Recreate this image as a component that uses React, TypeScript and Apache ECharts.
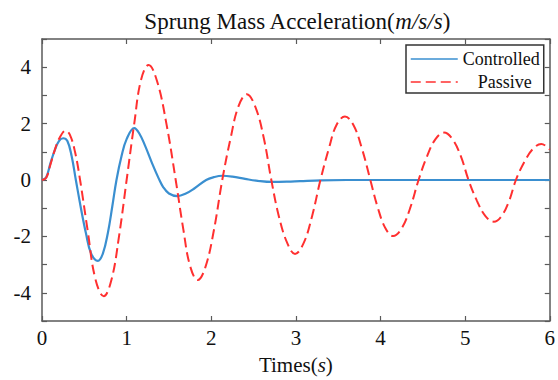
import React, { useEffect, useRef } from "react";
import * as echarts from "echarts";

const seriesNames = ["Controlled", "Passive"];

const controlledT = [0, 0.05, 0.1, 0.15, 0.2, 0.25, 0.3, 0.35, 0.4, 0.46, 0.52, 0.58, 0.66, 0.72, 0.78, 0.83, 0.88, 0.94, 1.0, 1.09, 1.15, 1.22, 1.3, 1.38, 1.43, 1.5, 1.6, 1.7, 1.8, 1.94, 2.03, 2.13, 2.25, 2.4, 2.55, 2.72, 2.9, 3.05, 3.3, 3.6, 4.0, 4.5, 5.0, 5.5, 6.0];
const controlledV = [0, 0.1, 0.6, 1.05, 1.38, 1.48, 1.38, 0.85, 0, -1.0, -1.9, -2.6, -2.87, -2.6, -1.85, -0.95, 0, 0.85, 1.45, 1.84, 1.65, 1.2, 0.6, 0.05, -0.24, -0.48, -0.57, -0.48, -0.3, 0, 0.1, 0.15, 0.12, 0.04, -0.03, -0.07, -0.06, -0.04, -0.01, 0, 0, 0, 0, 0, 0];

const passiveT = [0, 0.05, 0.1, 0.15, 0.2, 0.28, 0.33, 0.39, 0.45, 0.54, 0.63, 0.73, 0.82, 0.91, 1.0, 1.09, 1.17, 1.26, 1.36, 1.47, 1.58, 1.67, 1.75, 1.84, 1.93, 2.03, 2.13, 2.23, 2.32, 2.42, 2.52, 2.62, 2.71, 2.8, 2.9, 2.99, 3.09, 3.19, 3.29, 3.39, 3.48, 3.58, 3.68, 3.78, 3.88, 3.97, 4.06, 4.15, 4.25, 4.35, 4.45, 4.55, 4.65, 4.75, 4.85, 4.95, 5.04, 5.14, 5.24, 5.34, 5.43, 5.52, 5.6, 5.7, 5.8, 5.9, 6.0];
const passiveV = [0, 0.08, 0.55, 1.05, 1.45, 1.75, 1.6, 1.0, 0, -1.8, -3.5, -4.12, -3.55, -2.0, 0, 2.0, 3.55, 4.08, 3.5, 2.0, 0, -1.75, -3.05, -3.55, -3.1, -1.8, 0, 1.5, 2.6, 3.04, 2.6, 1.5, 0, -1.3, -2.25, -2.62, -2.25, -1.3, 0, 1.12, 1.95, 2.25, 1.95, 1.12, 0, -1.0, -1.72, -1.99, -1.72, -1.0, 0, 0.84, 1.45, 1.68, 1.45, 0.84, 0, -0.74, -1.28, -1.48, -1.28, -0.74, 0, 0.64, 1.1, 1.28, 1.08];

const xRange = [0, 6];
const yRange = [-5, 5];

const FONT = "Liberation Serif";
const AXIS_COLOR = "#5a5a5a";
const TEXT_COLOR = "#111";

export default function App() {
  const ref = useRef<HTMLDivElement>(null);
  useEffect(() => {
    if (!ref.current) return;
    const chart = echarts.init(ref.current, undefined, { renderer: "svg" });
    const pair = (t: number[], v: number[]) => t.map((x, i) => [x, v[i]]);
    const axisLine = { show: true, onZero: false, lineStyle: { color: AXIS_COLOR, width: 1.5 } };
    const axisTick = { show: true, inside: true, length: 5, lineStyle: { color: AXIS_COLOR, width: 1.2 } };
    const labelRich = { a: { fontFamily: FONT, fontSize: 21, color: TEXT_COLOR } };
    chart.setOption({
      animation: false,
      backgroundColor: "#fff",
      textStyle: { fontFamily: FONT },
      grid: { left: 42, right: 6, top: 39, bottom: 59, containLabel: false },
      graphic: [
        {
          type: "text",
          x: 297,
          y: 21,
          style: {
            text: "{n|Sprung Mass Acceleration(}{i|m/s/s}{n|)}",
            align: "center",
            verticalAlign: "middle",
            fill: TEXT_COLOR,
            rich: {
              n: { fontFamily: FONT, fontSize: 23, fill: TEXT_COLOR },
              i: { fontFamily: FONT, fontSize: 23, fontStyle: "italic", fill: TEXT_COLOR },
            },
          },
        },
      ],
      legend: {
        data: seriesNames,
        orient: "vertical",
        left: 406,
        top: 45,
        padding: [5, 4, 2, 4],
        itemGap: 5,
        itemWidth: 47,
        itemHeight: 14,
        borderColor: "#333",
        borderWidth: 1.5,
        borderRadius: 0,
        backgroundColor: "#fff",
        itemStyle: { opacity: 0, borderWidth: 0 },
        lineStyle: { width: 1.5 },
        formatter: (name: string) => (name === "Passive" ? "{p|" + name + "}" : "{c|" + name + "}"),
        textStyle: {
          fontFamily: FONT,
          fontSize: 18,
          color: TEXT_COLOR,
          rich: {
            c: { fontFamily: FONT, fontSize: 18, color: TEXT_COLOR },
            p: { fontFamily: FONT, fontSize: 18, color: TEXT_COLOR, padding: [0, 0, 0, 15] },
          },
        },
      },
      xAxis: [
        {
          type: "value",
          min: xRange[0],
          max: xRange[1],
          interval: 1,
          position: "bottom",
          axisLine,
          axisTick,
          splitLine: { show: false },
          axisLabel: {
            fontFamily: FONT,
            fontSize: 21,
            color: TEXT_COLOR,
            margin: 6,
            formatter: (v: number) => "{a|" + v + "}",
            rich: labelRich,
          },
          name: "{n|Times(}{i|s}{n|)}",
          nameLocation: "middle",
          nameGap: 33,
          nameTextStyle: {
            rich: {
              n: { fontFamily: FONT, fontSize: 21, color: TEXT_COLOR },
              i: { fontFamily: FONT, fontSize: 21, fontStyle: "italic", color: TEXT_COLOR },
            },
          },
        },
        {
          type: "value",
          min: xRange[0],
          max: xRange[1],
          interval: 1,
          position: "top",
          axisLine,
          axisTick,
          splitLine: { show: false },
          axisLabel: { show: false },
        },
      ],
      yAxis: [
        {
          type: "value",
          min: yRange[0],
          max: yRange[1],
          interval: 1,
          position: "left",
          axisLine,
          axisTick,
          splitLine: { show: false },
          axisLabel: {
            fontFamily: FONT,
            fontSize: 21,
            color: TEXT_COLOR,
            margin: 11,
            formatter: (v: number) => (v % 2 === 0 ? "{a|" + v + "}" : ""),
            rich: labelRich,
          },
        },
        {
          type: "value",
          min: yRange[0],
          max: yRange[1],
          interval: 1,
          position: "right",
          axisLine,
          axisTick,
          splitLine: { show: false },
          axisLabel: { show: false },
        },
      ],
      series: [
        {
          name: seriesNames[0],
          type: "line",
          xAxisIndex: 0,
          yAxisIndex: 0,
          data: pair(controlledT, controlledV),
          smooth: 0.4,
          symbol: "none",
          color: "#3a8fd0",
          lineStyle: { color: "#3a8fd0", width: 2.2 },
        },
        {
          name: seriesNames[1],
          type: "line",
          xAxisIndex: 0,
          yAxisIndex: 0,
          data: pair(passiveT, passiveV),
          smooth: 0.4,
          symbol: "none",
          color: "#ff3030",
          lineStyle: { color: "#ff3030", width: 2, type: [10, 5] },
        },
      ],
    } as any);
    return () => chart.dispose();
  }, []);
  return <div ref={ref} style={{ width: 558, height: 380, position: "absolute", left: 0, top: 0 }} />;
}
